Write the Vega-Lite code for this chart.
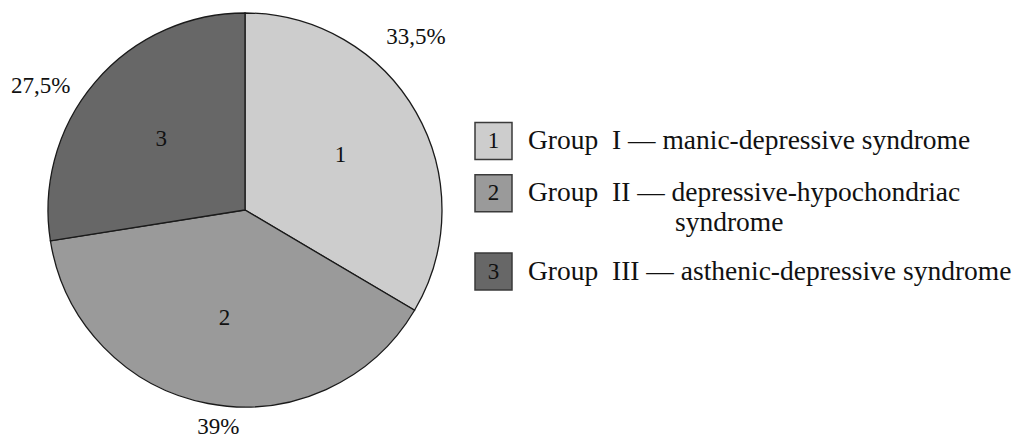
{
  "$schema": "https://vega.github.io/schema/vega-lite/v6.json",
  "padding": 0,
  "spacing": 0,
  "bounds": "flush",
  "background": "white",
  "config": {"view": {"stroke": null}, "text": {"font": "Liberation Serif", "color": "#111111"}},
  "datasets": {
    "groups": [
      {"group": "1", "share": 33.5, "pct": "33,5%", "label": "Group\u00a0\u00a0I — manic-depressive syndrome"},
      {"group": "2", "share": 39, "pct": "39%", "label": "Group\u00a0\u00a0II — depressive-hypochondriac"},
      {"group": "3", "share": 27.5, "pct": "27,5%", "label": "Group\u00a0\u00a0III — asthenic-depressive syndrome"}
    ],
    "extra": [
      {"group": "2", "label": "syndrome"}
    ]
  },
  "hconcat": [
    {
      "width": 490,
      "height": 420,
      "data": {"name": "groups"},
      "transform": [
        {"stack": "share", "groupby": [], "sort": [{"field": "group", "order": "ascending"}], "as": ["s0", "s1"]}
      ],
      "layer": [
        {
          "mark": {"type": "arc", "outerRadius": 197, "stroke": "#1a1a1a", "strokeWidth": 1.3},
          "encoding": {
            "theta": {"field": "s0", "type": "quantitative", "scale": {"domain": [0, 100]}},
            "theta2": {"field": "s1"},
            "color": {"field": "group", "type": "nominal", "scale": {"domain": ["1", "2", "3"], "range": ["#cdcdcd", "#9a9a9a", "#676767"]}, "legend": null}
          }
        },
        {
          "mark": {"type": "text", "font": "Liberation Serif", "radius": 110, "fontSize": 23, "align": "center", "baseline": "middle"},
          "encoding": {
            "theta": {"field": "share", "type": "quantitative", "stack": true},
            "order": {"field": "group", "type": "ordinal"},
            "text": {"field": "group"}
          }
        },
        {
          "transform": [{"filter": "datum.group === '1'"}],
          "mark": {"type": "text", "font": "Liberation Serif", "radius": 243, "thetaOffset": 0.780, "fontSize": 23, "align": "center", "baseline": "middle"},
          "encoding": {
            "theta": {"field": "s0", "type": "quantitative"},
            "text": {"field": "pct"}
          }
        },
        {
          "transform": [{"filter": "datum.group === '2'"}],
          "mark": {"type": "text", "font": "Liberation Serif", "radius": 219, "thetaOffset": 1.159, "fontSize": 23, "align": "center", "baseline": "middle"},
          "encoding": {
            "theta": {"field": "s0", "type": "quantitative"},
            "text": {"field": "pct"}
          }
        },
        {
          "transform": [{"filter": "datum.group === '3'"}],
          "mark": {"type": "text", "font": "Liberation Serif", "radius": 239, "thetaOffset": 0.703, "fontSize": 23, "align": "center", "baseline": "middle"},
          "encoding": {
            "theta": {"field": "s0", "type": "quantitative"},
            "text": {"field": "pct"}
          }
        }
      ]
    },
    {
      "width": 539,
      "height": 420,
      "layer": [
        {
          "data": {"name": "groups"},
          "mark": {"type": "point", "shape": "square", "filled": true, "size": 1369, "opacity": 1, "stroke": "#3a3a3a", "strokeWidth": 1.5, "x": 3.5},
          "encoding": {
            "y": {"field": "group", "type": "nominal", "scale": {"type": "point", "domain": ["1", "1a", "2", "2a", "2b", "3"], "range": [141, 271.5], "padding": 0}, "axis": null},
            "color": {"field": "group", "type": "nominal", "scale": {"domain": ["1", "2", "3"], "range": ["#cdcdcd", "#9a9a9a", "#676767"]}, "legend": null}
          }
        },
        {
          "data": {"name": "groups"},
          "mark": {"type": "text", "font": "Liberation Serif", "x": 3.5, "fontSize": 23, "align": "center", "baseline": "middle"},
          "encoding": {
            "y": {"field": "group", "type": "nominal"},
            "text": {"field": "group"}
          }
        },
        {
          "data": {"name": "groups"},
          "mark": {"type": "text", "font": "Liberation Serif", "x": 38, "fontSize": 27.5, "align": "left", "baseline": "middle"},
          "encoding": {
            "y": {"field": "group", "type": "nominal"},
            "text": {"field": "label"}
          }
        },
        {
          "data": {"name": "extra"},
          "mark": {"type": "text", "font": "Liberation Serif", "x": 185, "dy": 30, "fontSize": 27.5, "align": "left", "baseline": "middle"},
          "encoding": {
            "y": {"field": "group", "type": "nominal"},
            "text": {"field": "label"}
          }
        }
      ]
    }
  ]
}
